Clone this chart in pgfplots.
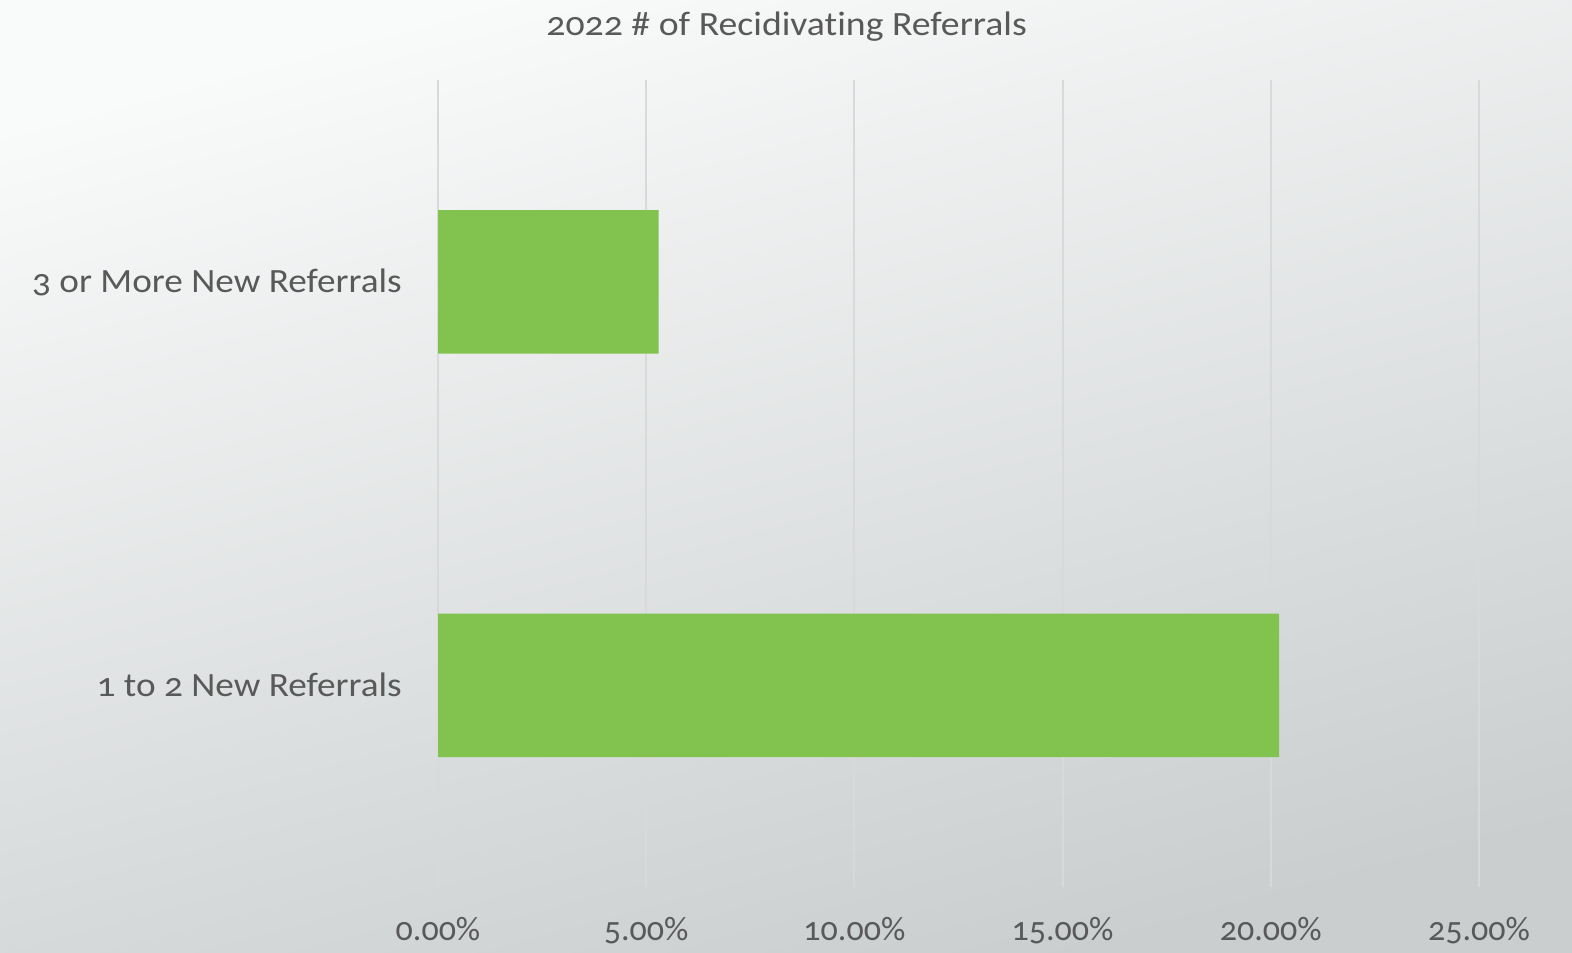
\documentclass[border=0pt]{standalone}
\usepackage{pgfplots}
\pgfplotsset{compat=1.18}
\usepackage{fontspec}
\setmainfont{Carlito}[Numbers=OldStyle, Ligatures=NoCommon]
\newfontfamily\lblfont{Carlito}[Numbers=OldStyle, Ligatures=NoCommon, FakeStretch=1.095]
\newfontfamily\ttlfont{Carlito}[Numbers=OldStyle, Ligatures=NoCommon, FakeStretch=1.11]
\definecolor{barc}{HTML}{82C350}
\definecolor{textc}{HTML}{595959}
\definecolor{gridc}{HTML}{D9D9D9}
\definecolor{bgtop}{HTML}{F9FAFA}
\definecolor{bgbot}{HTML}{CACECF}
\begin{document}
\begin{tikzpicture}[x=1pt,y=1pt]
\shade[top color=bgtop, bottom color=bgbot, shading angle=15] (0,0) rectangle (786,476);
\node[anchor=base, text=textc, font=\ttlfont\fontsize{17}{20}\selectfont, inner sep=0pt] at (393.3,458) {2022 \# of Recidivating Referrals};
\begin{axis}[
  at={(219pt,32.4pt)}, anchor=south west,
  scale only axis, width=520.5pt, height=403.5pt,
  xbar, xmin=0, xmax=25, ymin=-0.5, ymax=1.5,
  ytick={0,1}, yticklabels={1 to 2 New Referrals, 3 or More New Referrals},
  xtick={0,5,...,25},
  xmajorgrids, major grid style={color=gridc, line width=1pt},
  axis line style={draw=none},
  major tick length=0pt,
  bar width=71.7pt,
  /pgf/number format/assume math mode=true,
  xticklabel={\pgfmathprintnumber[fixed,fixed zerofill,precision=2]{\tick}\%},
  ticklabel style={text=textc, inner sep=0pt},
  x tick label style={font=\fontsize{17}{20}\selectfont, anchor=base, yshift=-26.6pt},
  y tick label style={font=\lblfont\fontsize{17}{20}\selectfont, anchor=base east, xshift=-18pt, yshift=-5.4pt},
]
\addplot[fill=barc, draw=none] coordinates {(20.2,0) (5.3,1)};
\end{axis}
\end{tikzpicture}
\end{document}
